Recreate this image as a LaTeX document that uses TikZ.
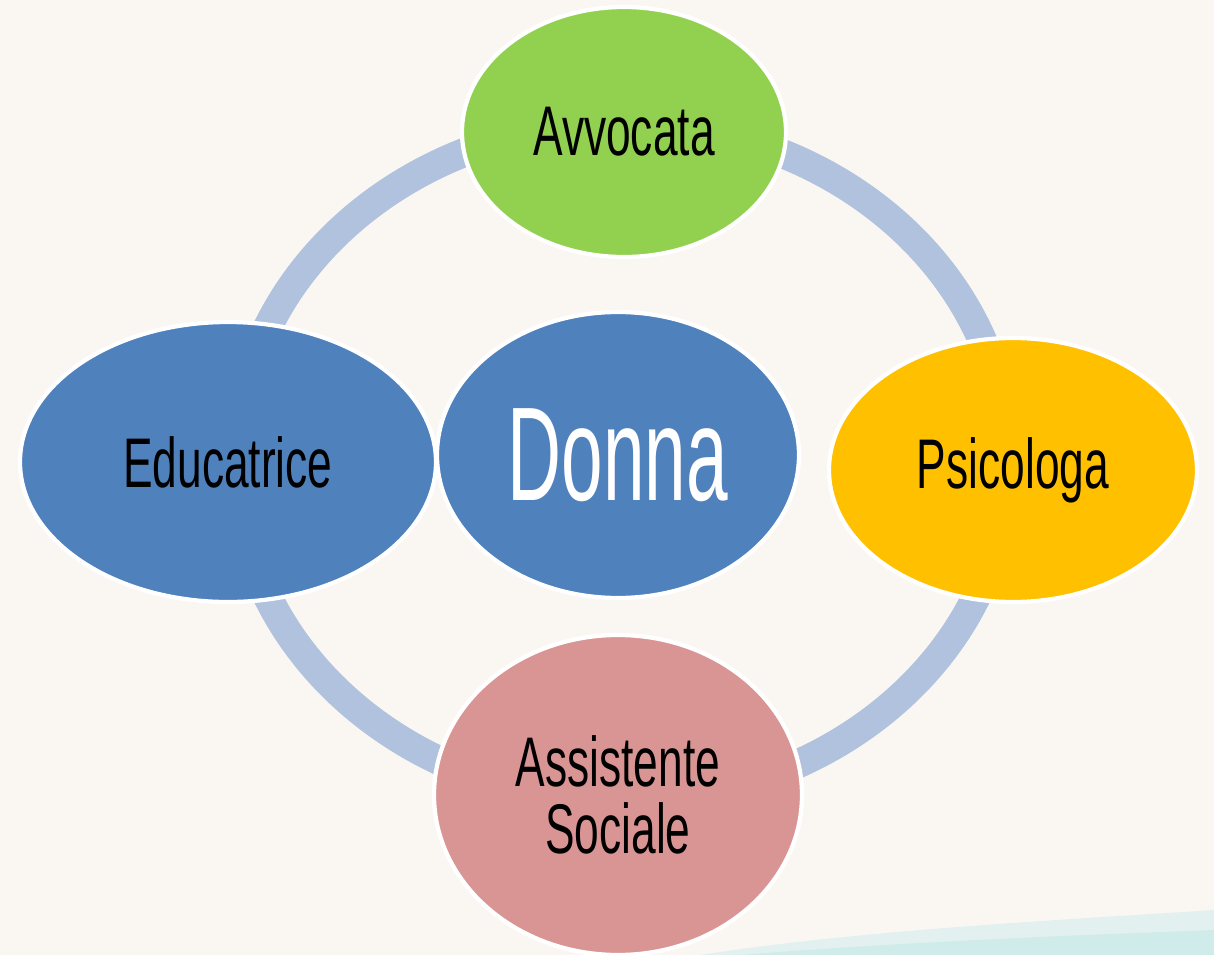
\documentclass[tikz,border=0pt]{standalone}
\usepackage{fontspec}
\newfontfamily\agency[FakeStretch=0.63]{Liberation Sans}
\newfontfamily\agencystretta[FakeStretch=0.56]{Liberation Sans}
\usetikzlibrary{shapes.geometric}

\definecolor{sfondo}{HTML}{FAF7F3}
\definecolor{acqua}{HTML}{B8E8E8}
\definecolor{anello}{HTML}{B0C2DD}
\definecolor{verde}{HTML}{92D050}
\definecolor{arancio}{HTML}{FFC000}
\definecolor{rosa}{HTML}{D99594}
\definecolor{blu}{HTML}{4F81BD}

\begin{document}
\begin{tikzpicture}[y=-1cm,
  bolla/.style={ellipse, draw=white, line width=1.2pt, inner sep=0pt, align=center,
    font=\agency\fontsize{20}{19}\selectfont}]
% 背景
\fill[sfondo] (0,0) rectangle (12.14,9.55);
\useasboundingbox (0,0) rectangle (12.14,9.55);
\fill[acqua, opacity=.35] (7.0,9.55) .. controls (8.6,9.3) and (10.6,9.2) .. (12.14,9.1) -- (12.14,9.55) -- cycle;
\fill[acqua, opacity=.45] (7.4,9.55) .. controls (9.0,9.42) and (10.8,9.35) .. (12.14,9.3) -- (12.14,9.55) -- cycle;

% 环
\coordinate (O) at (6.22,4.62);
\draw[anello, line width=0.29cm] (O) ellipse (3.86 and 3.39);

\node[bolla, fill=verde, minimum width=3.24cm, minimum height=2.5cm] (avv) at (6.24,1.32) {Avvocata};
\node[bolla, fill=arancio, minimum width=3.68cm, minimum height=2.64cm] (psi) at (10.13,4.70) {Psicologa};
\node[bolla, fill=rosa, minimum width=3.68cm, minimum height=3.2cm] (ass) at (6.18,7.95) {Assistente\\Sociale};
\node[bolla, fill=blu, minimum width=4.16cm, minimum height=2.8cm] (edu) at (2.28,4.62) {Educatrice};

% 中心
\node[bolla, fill=blu, text=white, minimum width=3.62cm, minimum height=2.86cm,
  font=\agencystretta\fontsize{38}{38}\selectfont] (donna) at (6.18,4.55) {Donna};
\end{tikzpicture}
\end{document}
